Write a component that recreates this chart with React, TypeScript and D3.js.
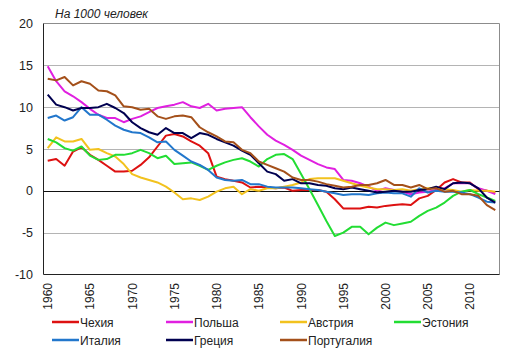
import React from "react";
import * as d3 from "d3";

const years: number[] = d3.range(1960, 2014);
const yTicks: number[] = [-10, -5, 0, 5, 10, 15, 20];
const xTicks: number[] = [1960, 1965, 1970, 1975, 1980, 1985, 1990, 1995, 2000, 2005, 2010];

const czech = [3.6,3.8,3.0,4.7,5.2,4.3,3.7,3.0,2.3,2.3, 2.4,3.1,4.0,5.3,6.6,6.8,6.5,5.9,5.4,4.5, 1.7,1.4,1.2,1.0,0.4,0.5,0.4,0.3,0.4,0.0, 0.1,0.1,0.1,-0.1,-1.0,-2.1,-2.1,-2.1,-1.9,-2.0, -1.8,-1.7,-1.6,-1.7,-0.9,-0.6,0.1,1.0,1.4,1.0, 1.0,0.2,0.0,-0.2];
const poland = [14.9,13.1,11.9,11.3,10.6,9.8,9.1,8.7,8.7,8.2, 8.6,8.9,9.4,9.9,10.1,10.3,10.6,10.1,9.9,10.4, 9.6,9.8,9.9,10.0,8.8,7.7,6.7,6.0,5.5,4.9, 4.2,3.7,3.2,2.8,2.6,1.3,1.2,0.9,0.5,0.0, 0.3,0.1,-0.1,-0.4,-0.2,-0.1,0.1,0.3,0.9,0.9, 0.9,0.3,0.0,-0.4];
const austria = [5.1,6.4,5.9,5.9,6.2,4.9,5.0,4.5,4.1,3.2, 2.0,1.6,1.3,1.0,0.5,-0.2,-1.0,-0.9,-1.1,-0.7, -0.1,0.3,0.5,-0.4,0.2,0.0,0.3,0.3,0.5,0.7, 1.0,1.4,1.5,1.5,1.5,1.2,0.9,0.6,0.4,0.2, 0.2,0.1,0.2,0.0,0.2,0.3,0.4,0.2,0.1,-0.1, 0.1,0.0,0.0,-0.1];
const estonia = [6.2,5.8,5.1,4.8,5.3,4.2,3.7,3.8,4.3,4.3, 4.5,4.9,4.5,3.9,4.2,3.2,3.3,3.4,3.0,2.5, 3.0,3.4,3.7,3.9,3.5,2.9,3.8,4.3,4.4,3.8, 2.0,0.2,-1.7,-3.6,-5.4,-5.0,-4.3,-4.3,-5.2,-4.4, -3.8,-4.1,-3.9,-3.7,-3.0,-2.4,-2.0,-1.4,-0.6,-0.1, 0.1,-0.4,-0.8,-1.2];
const italy = [8.7,9.0,8.4,8.8,10.0,9.1,9.1,8.5,7.8,7.3, 7.0,6.9,6.4,5.8,5.9,4.9,4.2,3.5,3.1,2.5, 1.6,1.3,1.2,1.3,0.8,0.8,0.5,0.4,0.4,0.4, 0.3,0.2,0.1,-0.1,-0.3,-0.5,-0.4,-0.4,-0.5,-0.3, -0.2,-0.3,-0.3,-0.7,0.3,-0.2,0.0,-0.1,-0.1,-0.2, -0.4,-0.8,-1.3,-1.4];
const greece = [11.5,10.3,10.0,9.6,9.9,9.9,10.0,10.4,9.9,9.3, 8.2,7.5,7.0,6.7,7.5,6.9,6.9,6.3,6.9,6.7, 6.2,5.8,5.4,4.8,4.3,3.3,2.3,2.0,1.2,1.4, 0.9,0.9,0.7,0.6,0.3,0.2,0.4,0.2,0.0,-0.2, -0.1,0.0,-0.1,-0.1,0.1,0.2,0.5,0.2,0.9,1.0, 0.9,0.3,-0.8,-1.4];
const portugal = [13.4,13.2,13.6,12.6,13.1,12.8,12.0,11.9,11.4,10.1, 10.0,9.7,9.8,8.9,8.6,8.9,9.0,8.8,7.6,7.0, 6.5,5.9,5.8,4.9,4.5,3.5,3.1,2.7,2.3,1.6, 1.3,1.3,1.1,0.8,0.6,0.4,0.5,0.7,0.7,0.9, 1.3,0.7,0.7,0.4,0.7,0.2,0.3,-0.1,0.0,-0.4, -0.4,-0.6,-1.7,-2.3];

const seriesNames = ["Чехия", "Польша", "Австрия", "Эстония", "Италия", "Греция", "Португалия"];
const seriesValues = [czech, poland, austria, estonia, italy, greece, portugal];
const seriesColors = ["#dd1111", "#e020e0", "#f2c21e", "#22dd33", "#2277cc", "#000050", "#a4501a"];

const W = 514, H = 356;
const left = 43.5, right = 499.5, top = 23.5, bottom = 274.5;

export default function App() {
  const x = d3.scalePoint<number>().domain(years).range([left, right]).padding(0.5);
  const y = d3.scaleLinear().domain([-10, 20]).range([bottom, top]);
  const line = d3.line<number>().x((_, i) => x(years[i]) as number).y((v) => y(v));
  const font = "Arial, 'Liberation Sans', sans-serif";

  return (
    <svg width={W} height={H} style={{ position: "absolute", left: 0, top: 0, background: "#fff" }} fontFamily={font}>
      <rect x={0} y={0} width={W} height={H} fill="#ffffff" />
      <text x={55} y={18} fontSize={12} fontStyle="italic" fill="#222">На 1000 человек</text>
      {yTicks.filter((t) => t !== 0 && t !== -10 && t !== 20).map((t) => (
        <line key={t} x1={left} x2={right} y1={Math.round(y(t)) + 0.5} y2={Math.round(y(t)) + 0.5} stroke="#b4b4b4" strokeWidth={1} />
      ))}
      <line x1={left} x2={right} y1={top} y2={top} stroke="#8c8c8c" />
      <line x1={right} x2={right} y1={top} y2={bottom} stroke="#8c8c8c" />
      <line x1={left} x2={right} y1={bottom} y2={bottom} stroke="#222" />
      <line x1={left} x2={left} y1={top} y2={bottom} stroke="#222" />
      <line x1={left} x2={right} y1={Math.round(y(0)) + 0.5} y2={Math.round(y(0)) + 0.5} stroke="#111" />
      {yTicks.map((t) => (
        <text key={t} x={33} y={y(t) + 4.5} fontSize={12.5} textAnchor="end" fill="#222">{t}</text>
      ))}
      {xTicks.map((t) => (
        <text key={t} transform={`translate(${(x(t) as number) + 4.5},283) rotate(-90)`} fontSize={12} textAnchor="end" fill="#222">{t}</text>
      ))}
      {seriesValues.map((vals, i) => (
        <path key={i} d={line(vals) ?? ""} fill="none" stroke={seriesColors[i]} strokeWidth={2} strokeLinejoin="round" />
      ))}
      {seriesNames.map((n, i) => {
        const col = i % 4, row = Math.floor(i / 4);
        const lx = 52 + col * 114;
        const ly = 322 + row * 18;
        return (
          <g key={n}>
            <line x1={lx} x2={lx + 27} y1={ly} y2={ly} stroke={seriesColors[i]} strokeWidth={2.5} />
            <text x={lx + 28} y={ly + 4.5} fontSize={12} fill="#222">{n}</text>
          </g>
        );
      })}
    </svg>
  );
}
